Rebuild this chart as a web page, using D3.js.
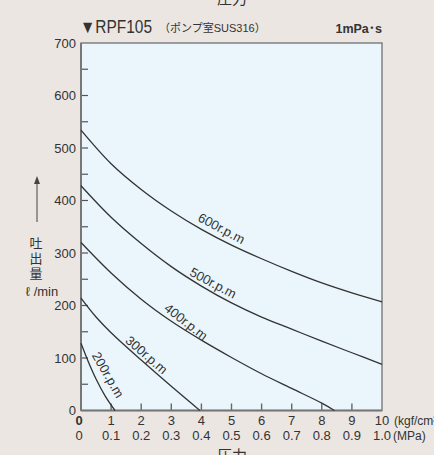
<!DOCTYPE html>
<html><head><meta charset="utf-8">
<script src="https://cdn.jsdelivr.net/npm/d3@7"></script>
<style>
html,body{margin:0;padding:0;background:#ebe6e1;}
svg{display:block;}
text{font-family:"Liberation Sans","Noto Sans CJK JP",sans-serif;fill:#333;}
</style></head>
<body><svg id="c" width="434" height="455"></svg>
<script>
const xTicks = [0,1,2,3,4,5,6,7,8,9,10];
const mpaLabels = ["0","0.1","0.2","0.3","0.4","0.5","0.6","0.7","0.8","0.9","1.0"];
const yTicks = [0,100,200,300,400,500,600,700];
const yMinor = [50,150,250,350,450,550,650];

const p600 = [0,1,2,3,4,5,6,7,8,9,10];
const q600 = [534,470,421,380,345,315,289,265,243,224,207];
const p500 = [0,1,2,3,4,5,6,7,8,9,10];
const q500 = [428,368,318,274,237,205,178,155,132,110,88];
const p400 = [0,1,2,3,4,5,6,7,8,8.42];
const q400 = [320,262,212,170,134,101,70,42,14,0];
const p300 = [0,0.5,1,2,3,3.95];
const q300 = [214,178,148,96,46,0];
const p200 = [0,0.25,0.5,0.8,1.13];
const q200 = [128,92,60,28,0];

const seriesNames = ["600r.p.m","500r.p.m","400r.p.m","300r.p.m","200r.p.m"];
const labelX = [4.67,4.39,3.49,2.18,0.9];
const labelY = [347,243,169,106,68];
const labelAngle = [28,28,38,41,60];

const series = [[p600,q600],[p500,q500],[p400,q400],[p300,q300],[p200,q200]];

const svg = d3.select("#c");
const x = d3.scaleLinear().domain([0,10]).range([81,382]);
const y = d3.scaleLinear().domain([0,700]).range([410.5,43]);

svg.append("rect").attr("x",x(0)).attr("y",y(700)).attr("width",x(10)-x(0)).attr("height",y(0)-y(700))
  .attr("fill","#eaf6fc").attr("stroke","#666").attr("stroke-width",1.2);

const g = svg.append("g");
g.selectAll(".yt").data(yTicks.concat(yMinor).filter(d=>d>0&&d<700)).enter().append("line")
  .attr("x1",x(0)).attr("x2",x(0)+7).attr("y1",d=>y(d)).attr("y2",d=>y(d)).attr("stroke","#555").attr("stroke-width",1.2);
g.selectAll(".xt").data(xTicks.filter(d=>d>0&&d<10)).enter().append("line")
  .attr("x1",d=>x(d)).attr("x2",d=>x(d)).attr("y1",y(0)).attr("y2",y(0)-7).attr("stroke","#666").attr("stroke-width",1.4);
svg.append("line").attr("x1",x(0)).attr("x2",x(0)).attr("y1",y(700)).attr("y2",y(0)).attr("stroke","#777").attr("stroke-width",2);
svg.append("line").attr("x1",x(0)).attr("x2",x(10)).attr("y1",y(0)).attr("y2",y(0)).attr("stroke","#777").attr("stroke-width",2);

svg.selectAll(".yl").data(yTicks).enter().append("text")
  .attr("x",76).attr("y",d=>y(d)).attr("dy","0.36em").attr("text-anchor","end")
  .attr("font-size",13).text(d=>d);

svg.selectAll(".xl").data(xTicks).enter().append("text")
  .attr("x",d=>d===0?x(d)-2:x(d)).attr("y",425).attr("text-anchor","middle")
  .attr("font-size",13).attr("font-weight",d=>d===0?"bold":"normal").text(d=>d);
svg.append("text").attr("x",x(10)+12).attr("y",425).attr("font-size",12).text("(kgf/cm²)");
svg.selectAll(".ml").data(mpaLabels).enter().append("text")
  .attr("x",(d,i)=>i===0?x(0)-2:x(xTicks[i])).attr("y",440).attr("text-anchor","middle")
  .attr("font-size",13).text(d=>d);
svg.append("text").attr("x",x(10)+11).attr("y",440).attr("font-size",12).text("(MPa)");

svg.append("text").attr("x",232).attr("y",4).attr("text-anchor","middle").attr("font-size",15).text("圧力");
svg.append("text").attr("x",232).attr("y",461).attr("text-anchor","middle").attr("font-size",15).text("圧力");

svg.append("line").attr("x1",37).attr("x2",37).attr("y1",222).attr("y2",182).attr("stroke","#444").attr("stroke-width",1);
svg.append("path").attr("d","M37,176 L34,184 L40,184 Z").attr("fill","#444");
["吐","出","量"].forEach((c,i)=>{
  svg.append("text").attr("x",36).attr("y",248+i*15).attr("text-anchor","middle").attr("font-size",13).text(c);
});
svg.append("text").attr("x",42).attr("y",296).attr("text-anchor","middle").attr("font-size",13).text("ℓ /min");

const t1 = svg.append("text").attr("x",80).attr("y",33).attr("font-size",18).text("▼RPF105");
t1.attr("textLength",72).attr("lengthAdjust","spacingAndGlyphs");
svg.append("text").attr("x",159).attr("y",32).attr("font-size",11).text("（ポンプ室SUS316）");
svg.append("text").attr("x",382).attr("y",33).attr("text-anchor","end").attr("font-size",12.5).attr("font-weight","bold").attr("fill","#333").text("1mPa･s");

const line = d3.line().x(d=>x(d[0])).y(d=>y(d[1])).curve(d3.curveCatmullRom.alpha(0.5));
series.forEach(s=>{
  const pts = s[0].map((p,i)=>[p,s[1][i]]);
  svg.append("path").attr("d",line(pts)).attr("fill","none").attr("stroke","#333").attr("stroke-width",1.3);
});

seriesNames.forEach((n,i)=>{
  svg.append("text").attr("transform",`translate(${x(labelX[i])},${y(labelY[i])}) rotate(${labelAngle[i]})`)
    .attr("text-anchor","middle").attr("dy","0.35em").attr("font-size",13).text(n);
});
</script></body></html>
